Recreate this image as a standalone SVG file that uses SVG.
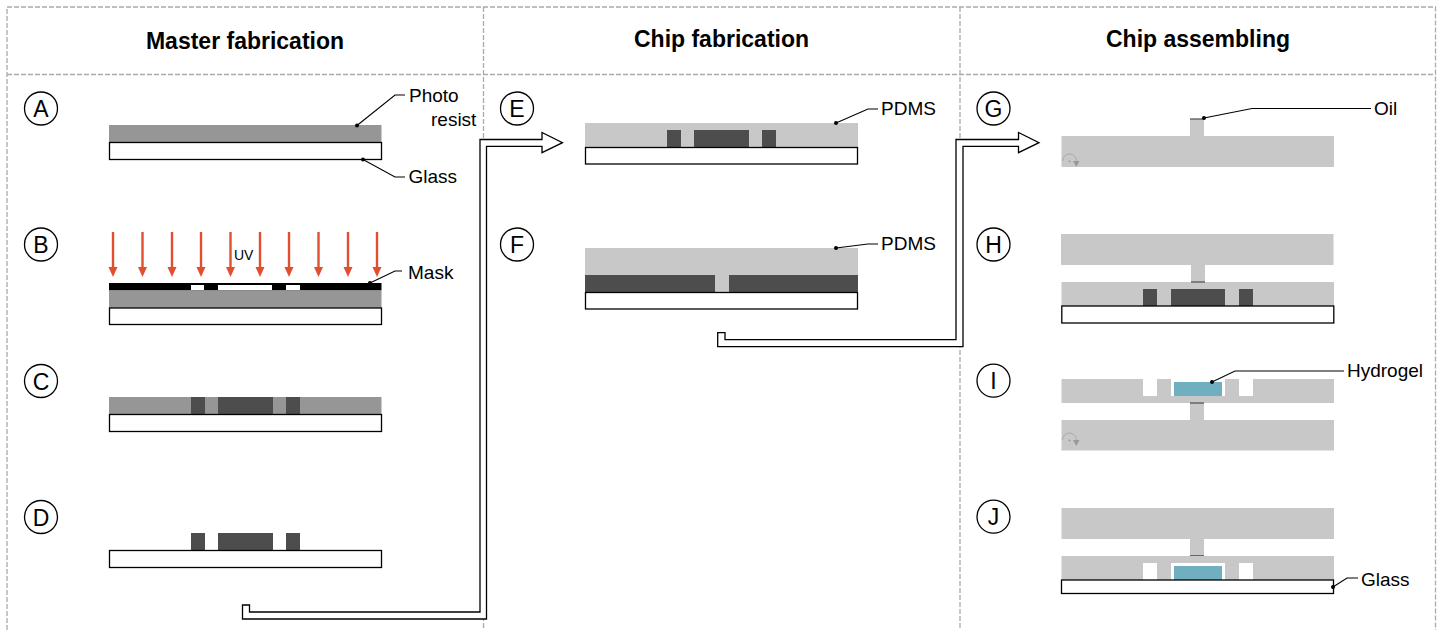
<svg xmlns="http://www.w3.org/2000/svg" width="1438" height="630" viewBox="0 0 1438 630">
<style>
text{font-family:"Liberation Sans",Arial,sans-serif;fill:#000}
.t{font-size:23px;font-weight:bold;text-anchor:middle}
.l{font-size:19px}
.c{font-size:23px;text-anchor:middle}
.b{fill:#fff;stroke:#000;stroke-width:1.3}
.k{fill:none;stroke:#000;stroke-width:1.3}
.g{fill:none;stroke:#aaa;stroke-width:1.3;stroke-dasharray:5 2}
.r{fill:#969696}
.p{fill:#c8c8c8}
.d{fill:#4d4d4d}
.w{fill:#fff}
.h{fill:#70afc0}
.f{fill:#fff;stroke:#000;stroke-width:1.3}
.u{stroke:#e0502f;stroke-width:2.4;fill:none;marker-end:url(#uv)}
.ln{fill:none;stroke:#000;stroke-width:1.1;marker-start:url(#dot)}
.o{stroke:#555;stroke-width:1.3}
</style>
<defs>
<marker id="uv" markerUnits="userSpaceOnUse" markerWidth="10" markerHeight="11" refX="4.500" refY="0" orient="0" viewBox="0 0 9 11"><path d="M0 0 L9 0 L4.500 10 Z" fill="#e0502f"/></marker>
<marker id="dot" markerUnits="userSpaceOnUse" markerWidth="5" markerHeight="5" refX="2.500" refY="2.500"><circle cx="2.500" cy="2.500" r="2" fill="#000"/></marker>
<g id="rot"><path d="M-7 0 A7 7 0 0 1 7 0" fill="none" stroke="#aaa" stroke-width="1"/><circle cx="0" cy="0.500" r="1" fill="#999"/><path d="M3.500 0 H10 L6.800 6 Z" fill="#999"/></g>
</defs>

<g id="frame">
<rect class="g" x="7" y="7" width="1428.500" height="640"/>
<path class="g" d="M7 74.500H1435.500M483.500 7V630M960 7V630"/>
</g>

<g id="titles">
<text class="t" x="245" y="48.500">Master fabrication</text>
<text class="t" x="721.500" y="46.500">Chip fabrication</text>
<text class="t" x="1198" y="46.500">Chip assembling</text>
</g>

<g id="connectors">
<path class="f" d="M242.500 605H249.500V612H480V139.500H542V132.500L562.500 142.700L542 152.700V146.300H486.500V619H242.500Z"/>
<path class="f" d="M717.700 332.700H725V339.700H956V139.500H1018.500V132.500L1039 142.700L1018.500 152.700V146.300H963V346.700H717.700Z"/>
</g>

<g id="step-A">
<circle class="b" cx="41" cy="108.500" r="16.500"/><text class="c" x="41" y="117">A</text>
<rect class="r" x="109" y="125" width="272.500" height="17.500"/>
<rect class="b" x="109.500" y="142.500" width="272" height="17"/>
<path class="ln" d="M357 125.500L395 95H405"/><path class="ln" d="M363 159.500L395 177H405"/>
<text class="l" x="409" y="102">Photo</text><text class="l" x="431" y="126">resist</text><text class="l" x="408.500" y="183">Glass</text>
</g>

<g id="step-B">
<circle class="b" cx="41" cy="244.500" r="16.500"/><text class="c" x="41" y="253">B</text>
<path class="u" d="M113 232V267"/><path class="u" d="M142.500 232V267"/><path class="u" d="M172 232V267"/><path class="u" d="M201 232V267"/><path class="u" d="M230.500 232V267"/><path class="u" d="M260 232V267"/><path class="u" d="M289 232V267"/><path class="u" d="M318.500 232V267"/><path class="u" d="M348 232V267"/><path class="u" d="M377 232V267"/>
<text x="234" y="260" font-size="14">UV</text>
<rect x="109" y="283" width="272.500" height="7.500" fill="#000"/>
<rect class="w" x="191" y="285" width="13" height="5"/><rect class="w" x="218" y="285" width="54" height="5"/><rect class="w" x="286" y="285" width="14" height="5"/>
<rect class="r" x="109" y="290.500" width="272.500" height="17.500"/>
<rect class="b" x="109.500" y="308" width="272" height="16.500"/>
<path class="ln" d="M370 283L395 271H402"/>
<text class="l" x="408" y="279">Mask</text>
</g>

<g id="step-C">
<circle class="b" cx="41" cy="381" r="16.500"/><text class="c" x="41" y="389.500">C</text>
<rect class="r" x="109" y="397" width="272.500" height="17.500"/>
<rect class="d" x="191" y="397" width="14" height="17.500"/><rect class="d" x="218" y="397" width="55" height="17.500"/><rect class="d" x="286" y="397" width="14" height="17.500"/>
<rect class="b" x="109.500" y="414.500" width="272" height="17"/>
</g>

<g id="step-D">
<circle class="b" cx="41" cy="517" r="16.500"/><text class="c" x="41" y="525.500">D</text>
<rect class="d" x="191" y="533" width="14" height="17.500"/><rect class="d" x="218" y="533" width="55" height="17.500"/><rect class="d" x="286" y="533" width="14" height="17.500"/>
<rect class="b" x="109.500" y="550.500" width="272" height="17"/>
</g>

<g id="step-E">
<circle class="b" cx="517" cy="108.500" r="16.500"/><text class="c" x="517" y="117">E</text>
<rect class="p" x="585" y="123" width="273" height="24.500"/>
<rect class="d" x="667" y="130" width="14" height="17.500"/><rect class="d" x="694" y="130" width="55" height="17.500"/><rect class="d" x="762" y="130" width="14" height="17.500"/>
<rect class="b" x="585.500" y="147.500" width="272" height="16.500"/>
<path class="ln" d="M836 123L868 109H878"/>
<text class="l" x="881" y="115">PDMS</text>
</g>

<g id="step-F">
<circle class="b" cx="517" cy="244.500" r="16.500"/><text class="c" x="517" y="253">F</text>
<rect class="p" x="585" y="248" width="273" height="27"/>
<rect class="d" x="585" y="275" width="273" height="17.500"/>
<rect class="p" x="715" y="275" width="14" height="17"/>
<rect class="b" x="585.500" y="292.500" width="272" height="16.500"/>
<path class="ln" d="M836 248L868 244H878"/>
<text class="l" x="881" y="250">PDMS</text>
</g>

<g id="step-G">
<circle class="b" cx="993.500" cy="108.500" r="16.500"/><text class="c" x="993.500" y="117">G</text>
<rect class="p" x="1190" y="119" width="14" height="17"/>
<path class="o" d="M1190 119H1204"/>
<rect class="p" x="1061.500" y="136" width="272.500" height="31"/>
<use href="#rot" x="1069.500" y="161"/>
<path class="ln" d="M1204 118L1252 108.500H1371"/>
<text class="l" x="1374" y="115">Oil</text>
</g>

<g id="step-H">
<circle class="b" cx="993.500" cy="244.500" r="16.500"/><text class="c" x="993.500" y="253">H</text>
<rect class="p" x="1061" y="234" width="272.500" height="31"/>
<rect class="p" x="1191" y="265" width="14" height="17"/>
<rect class="p" x="1061.500" y="282" width="272.500" height="24"/>
<path class="o" d="M1191 282H1205"/>
<rect class="d" x="1143" y="289" width="14" height="17"/><rect class="d" x="1171" y="289" width="54" height="17"/><rect class="d" x="1239" y="289" width="14" height="17"/>
<rect class="b" x="1061.800" y="306" width="272" height="17"/>
</g>

<g id="step-I">
<circle class="b" cx="993.500" cy="380.700" r="16.500"/><text class="c" x="993.500" y="389">I</text>
<rect class="p" x="1061.500" y="379" width="272.500" height="24"/>
<rect class="w" x="1143" y="379" width="14" height="17"/><rect class="w" x="1171" y="379" width="54" height="17"/><rect class="w" x="1239" y="379" width="14" height="17"/>
<rect class="h" x="1174" y="382" width="48" height="14"/>
<rect class="p" x="1190" y="403" width="14" height="17"/>
<path class="o" d="M1190 403H1204"/>
<rect class="p" x="1061.500" y="420" width="272.500" height="30.500"/>
<use href="#rot" x="1069.500" y="440"/>
<path class="ln" d="M1212 382L1235 371H1344"/>
<text class="l" x="1347" y="377">Hydrogel</text>
</g>

<g id="step-J">
<circle class="b" cx="993.500" cy="516.700" r="16.500"/><text class="c" x="993.500" y="525">J</text>
<rect class="p" x="1061.500" y="508" width="272.500" height="31"/>
<rect class="p" x="1190" y="539" width="14" height="17"/>
<path class="o" d="M1190 555.800H1204"/>
<rect class="p" x="1061.500" y="556" width="272.500" height="24"/>
<rect class="w" x="1143" y="563" width="14" height="17"/><rect class="w" x="1171" y="563" width="54" height="17"/><rect class="w" x="1239" y="563" width="14" height="17"/>
<rect class="h" x="1174" y="566" width="48" height="14"/>
<rect class="b" x="1061.500" y="580" width="272" height="13.500"/>
<path class="ln" d="M1333 587L1347 578H1358"/>
<text class="l" x="1361" y="586">Glass</text>
</g>
</svg>
